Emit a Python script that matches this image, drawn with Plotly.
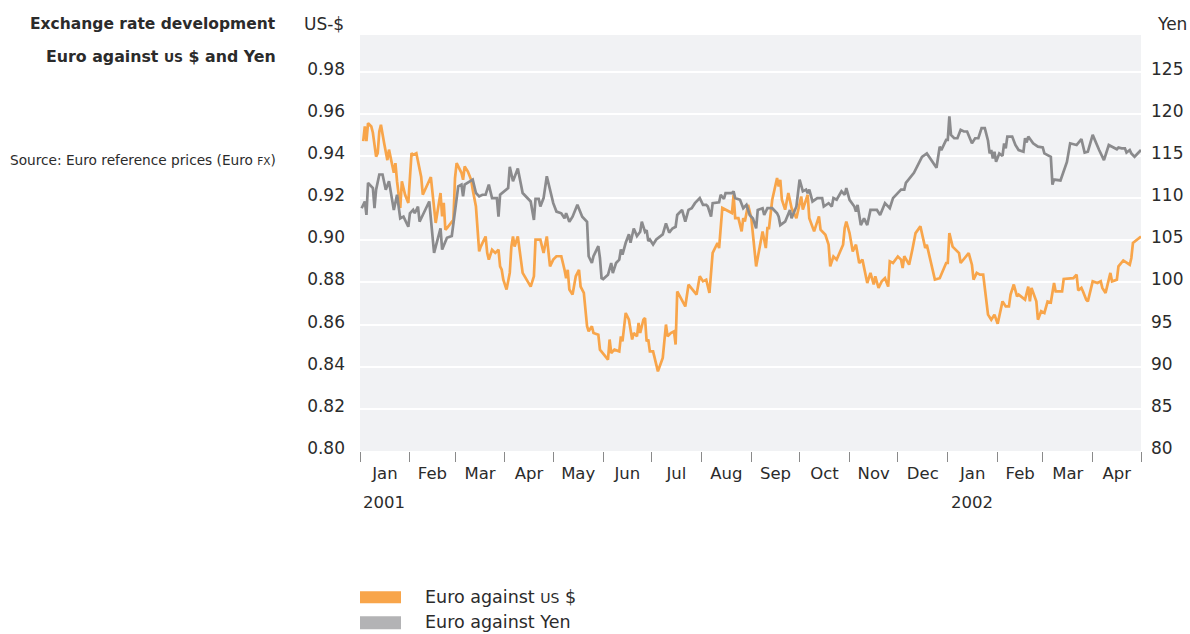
import plotly.graph_objects as go

# ---------------- data ----------------
usd_dates = [
    "2001-01-03","2001-01-04","2001-01-05","2001-01-06","2001-01-08","2001-01-09","2001-01-11","2001-01-12",
    "2001-01-13","2001-01-14","2001-01-16","2001-01-18","2001-01-19","2001-01-21","2001-01-22","2001-01-23",
    "2001-01-24","2001-01-26","2001-01-27","2001-01-29","2001-01-31","2001-02-02","2001-02-03","2001-02-05",
    "2001-02-07","2001-02-08","2001-02-09","2001-02-14","2001-02-17","2001-02-18","2001-02-20","2001-02-21",
    "2001-02-22","2001-02-23","2001-02-24","2001-02-28","2001-03-01","2001-03-02","2001-03-05","2001-03-06",
    "2001-03-07","2001-03-09","2001-03-11","2001-03-12","2001-03-14","2001-03-16","2001-03-17","2001-03-20",
    "2001-03-21","2001-03-22","2001-03-24","2001-03-26","2001-03-28","2001-03-29","2001-03-30","2001-03-31",
    "2001-04-02","2001-04-04","2001-04-05","2001-04-06","2001-04-07","2001-04-09","2001-04-12","2001-04-17",
    "2001-04-19","2001-04-20","2001-04-23","2001-04-25","2001-04-27","2001-04-29","2001-05-01","2001-05-03",
    "2001-05-06","2001-05-08","2001-05-09","2001-05-10","2001-05-11","2001-05-13","2001-05-15","2001-05-17",
    "2001-05-18","2001-05-20","2001-05-22","2001-05-23","2001-05-25","2001-05-26","2001-05-29","2001-05-30",
    "2001-06-04","2001-06-05","2001-06-06","2001-06-08","2001-06-11","2001-06-12","2001-06-13","2001-06-15",
    "2001-06-17","2001-06-19","2001-06-20","2001-06-22","2001-06-23","2001-06-24","2001-06-26","2001-06-27",
    "2001-06-28","2001-06-29","2001-06-30","2001-07-02","2001-07-05","2001-07-08","2001-07-10","2001-07-11",
    "2001-07-13","2001-07-15","2001-07-16","2001-07-17","2001-07-22","2001-07-24","2001-07-29","2001-07-31",
    "2001-08-02","2001-08-04","2001-08-06","2001-08-08","2001-08-11","2001-08-12","2001-08-14","2001-08-20",
    "2001-08-21","2001-08-22","2001-08-24","2001-08-26","2001-08-27","2001-08-28","2001-08-30","2001-09-01",
    "2001-09-04","2001-09-08","2001-09-10","2001-09-11","2001-09-12","2001-09-14","2001-09-17","2001-09-18",
    "2001-09-19","2001-09-20","2001-09-22","2001-09-24","2001-09-26","2001-09-29","2001-10-02","2001-10-03",
    "2001-10-06","2001-10-07","2001-10-10","2001-10-13","2001-10-14","2001-10-17","2001-10-19","2001-10-20",
    "2001-10-22","2001-10-24","2001-10-28","2001-10-29","2001-10-30","2001-11-01","2001-11-03","2001-11-05",
    "2001-11-07","2001-11-09","2001-11-12","2001-11-14","2001-11-16","2001-11-17","2001-11-19","2001-11-21",
    "2001-11-23","2001-11-25","2001-11-26","2001-11-28","2001-12-01","2001-12-03","2001-12-04","2001-12-05",
    "2001-12-08","2001-12-10","2001-12-12","2001-12-15","2001-12-18","2001-12-19","2001-12-24","2001-12-27",
    "2001-12-29","2001-12-31","2002-01-01","2002-01-02","2002-01-04","2002-01-08","2002-01-09","2002-01-14",
    "2002-01-16","2002-01-17","2002-01-19","2002-01-21","2002-01-23","2002-01-24","2002-01-26","2002-01-28",
    "2002-01-30","2002-02-01","2002-02-03","2002-02-04","2002-02-06","2002-02-08","2002-02-09","2002-02-11",
    "2002-02-13","2002-02-14","2002-02-18","2002-02-20","2002-02-21","2002-02-22","2002-02-25","2002-02-26",
    "2002-02-28","2002-03-02","2002-03-04","2002-03-06","2002-03-08","2002-03-09","2002-03-13","2002-03-14",
    "2002-03-20","2002-03-22","2002-03-23","2002-03-25","2002-03-26","2002-03-28","2002-03-29","2002-04-01",
    "2002-04-04","2002-04-06","2002-04-07","2002-04-09","2002-04-12","2002-04-13","2002-04-16","2002-04-17",
    "2002-04-20","2002-04-24","2002-04-25","2002-04-26","2002-05-01",
]
usd_values = [
    0.947,0.954,0.947,0.9556,0.954,0.951,0.9397,0.9413,
    0.9516,0.9548,0.946,0.938,0.943,0.9358,0.932,0.9366,
    0.928,0.9153,0.928,0.9216,0.9177,0.9413,0.9405,0.9413,
    0.9334,0.930,0.9216,0.930,0.9082,0.9129,0.9224,0.9113,
    0.9177,0.905,0.9058,0.9097,0.9295,0.9366,0.932,0.9287,
    0.935,0.9326,0.9287,0.924,0.916,0.8947,0.897,0.9018,
    0.894,0.8908,0.8955,0.894,0.8955,0.8876,0.886,0.8813,
    0.8766,0.8845,0.897,0.9018,0.897,0.9018,0.8845,0.878,
    0.8829,0.9003,0.9003,0.894,0.9018,0.8876,0.8908,0.8924,
    0.8924,0.886,0.882,0.886,0.8766,0.8742,0.8829,0.886,
    0.878,0.875,0.8592,0.8568,0.8592,0.856,0.8552,0.8481,
    0.8434,0.8529,0.8465,0.8481,0.8473,0.8544,0.852,0.8655,
    0.8623,0.8529,0.856,0.8544,0.8608,0.856,0.8623,0.8631,
    0.852,0.8529,0.8473,0.8473,0.8378,0.8442,0.860,0.8544,
    0.856,0.8568,0.8505,0.8757,0.8686,0.8789,0.8742,0.8829,
    0.8805,0.8813,0.875,0.894,0.8987,0.8963,0.9153,0.9129,
    0.9216,0.9105,0.9105,0.9042,0.9105,0.9089,0.9168,0.9105,
    0.8876,0.9042,0.8963,0.9058,0.9058,0.9192,0.9295,0.9255,
    0.9287,0.9192,0.9145,0.9224,0.9153,0.9105,0.9208,0.9145,
    0.9216,0.9105,0.9042,0.9113,0.905,0.9026,0.8979,0.8876,
    0.8923,0.8908,0.8979,0.9058,0.9089,0.9034,0.8947,0.8979,
    0.8892,0.8908,0.8797,0.8845,0.879,0.8829,0.8774,0.8805,
    0.882,0.878,0.890,0.8892,0.8923,0.8908,0.8868,0.8924,
    0.8884,0.8955,0.9034,0.9066,0.8963,0.8979,0.8813,0.882,
    0.8852,0.8892,0.8892,0.9034,0.897,0.8939,0.8892,0.8939,
    0.8884,0.8813,0.8845,0.8837,0.8837,0.878,0.8647,0.8623,
    0.8647,0.8604,0.8686,0.871,0.8686,0.8686,0.8742,0.879,
    0.8734,0.8742,0.8718,0.878,0.871,0.8774,0.871,0.8623,
    0.8663,0.8655,0.871,0.8705,0.8797,0.8757,0.8757,0.8816,
    0.882,0.8837,0.8762,0.8774,0.8757,0.8718,0.871,0.8805,
    0.8797,0.8805,0.8774,0.875,0.8845,0.8805,0.8813,0.8876,
    0.8904,0.8884,0.8916,0.8987,0.9018,
]

yen_dates = [
    "2001-01-02","2001-01-04","2001-01-05","2001-01-06","2001-01-09","2001-01-10","2001-01-11","2001-01-13",
    "2001-01-15","2001-01-17","2001-01-19","2001-01-20","2001-01-22","2001-01-24","2001-01-26","2001-01-28",
    "2001-01-31","2001-02-01","2001-02-03","2001-02-04","2001-02-06","2001-02-07","2001-02-09","2001-02-11",
    "2001-02-13","2001-02-16","2001-02-19","2001-02-20","2001-02-21","2001-02-24","2001-02-27","2001-03-02",
    "2001-03-03","2001-03-05","2001-03-06","2001-03-07","2001-03-10","2001-03-12","2001-03-14","2001-03-16",
    "2001-03-18","2001-03-20","2001-03-22","2001-03-24","2001-03-27","2001-03-28","2001-03-29","2001-04-03",
    "2001-04-04","2001-04-06","2001-04-09","2001-04-12","2001-04-17","2001-04-19","2001-04-20","2001-04-22",
    "2001-04-23","2001-04-25","2001-04-27","2001-04-29","2001-05-01","2001-05-03","2001-05-06","2001-05-08",
    "2001-05-09","2001-05-11","2001-05-13","2001-05-16","2001-05-19","2001-05-22","2001-05-23","2001-05-25",
    "2001-05-26","2001-05-29","2001-05-30","2001-05-31","2001-06-01","2001-06-04","2001-06-06","2001-06-07",
    "2001-06-09","2001-06-11","2001-06-12","2001-06-13","2001-06-15","2001-06-17","2001-06-18","2001-06-20",
    "2001-06-22","2001-06-24","2001-06-25","2001-06-27","2001-06-28","2001-06-29","2001-06-30","2001-07-02",
    "2001-07-04","2001-07-08","2001-07-10","2001-07-12","2001-07-14","2001-07-16","2001-07-17","2001-07-18",
    "2001-07-20","2001-07-22","2001-07-24","2001-07-26","2001-07-28","2001-07-31","2001-08-02","2001-08-04",
    "2001-08-05","2001-08-07","2001-08-08","2001-08-12","2001-08-13","2001-08-15","2001-08-16","2001-08-20",
    "2001-08-21","2001-08-22","2001-08-25","2001-08-27","2001-08-29","2001-08-31","2001-09-02","2001-09-04",
    "2001-09-05","2001-09-08","2001-09-09","2001-09-11","2001-09-12","2001-09-14","2001-09-17","2001-09-18",
    "2001-09-19","2001-09-22","2001-09-25","2001-09-26","2001-09-29","2001-10-01","2001-10-03","2001-10-05",
    "2001-10-06","2001-10-07","2001-10-09","2001-10-12","2001-10-15","2001-10-16","2001-10-19","2001-10-20",
    "2001-10-21","2001-10-22","2001-10-24","2001-10-27","2001-10-29","2001-10-30","2001-11-01","2001-11-04",
    "2001-11-05","2001-11-06","2001-11-08","2001-11-10","2001-11-12","2001-11-14","2001-11-18","2001-11-20",
    "2001-11-23","2001-11-26","2001-11-28","2001-12-03","2001-12-05","2001-12-06","2001-12-11","2001-12-16",
    "2001-12-19","2001-12-25","2001-12-27","2001-12-28","2001-12-31","2002-01-01","2002-01-02","2002-01-03",
    "2002-01-05","2002-01-07","2002-01-09","2002-01-11","2002-01-13","2002-01-16","2002-01-18","2002-01-20",
    "2002-01-22","2002-01-24","2002-01-26","2002-01-27","2002-01-28","2002-01-29","2002-01-30","2002-01-31",
    "2002-02-02","2002-02-04","2002-02-05","2002-02-06","2002-02-07","2002-02-10","2002-02-12","2002-02-14",
    "2002-02-17","2002-02-18","2002-02-19","2002-02-20","2002-02-23","2002-02-26","2002-03-01","2002-03-02",
    "2002-03-05","2002-03-06","2002-03-07","2002-03-08","2002-03-12","2002-03-16","2002-03-18","2002-03-22",
    "2002-03-25","2002-03-27","2002-03-29","2002-04-01","2002-04-05","2002-04-08","2002-04-11","2002-04-16",
    "2002-04-17","2002-04-19","2002-04-21","2002-04-22","2002-04-24","2002-04-25","2002-04-27","2002-05-01",
]
yen_values = [
    108.8,109.6,108.0,111.8,111.2,108.8,111.0,112.8,
    112.8,111.0,112.0,111.0,108.6,110.4,107.6,107.8,
    106.6,108.2,108.6,108.2,109.0,107.2,108.0,109.0,
    109.6,103.5,105.9,106.4,103.9,105.3,105.5,109.8,
    111.4,111.6,110.2,111.6,112.0,112.2,110.6,110.2,
    110.4,110.4,111.6,110.0,110.0,107.8,110.4,111.2,
    113.7,112.0,113.5,110.6,109.6,107.4,109.9,109.9,
    109.0,110.0,112.6,111.0,109.4,108.4,108.2,107.6,
    108.2,107.2,107.8,109.2,107.8,107.2,103.1,102.3,
    103.1,104.3,102.9,100.5,100.4,100.9,102.3,101.1,
    102.3,102.7,103.9,103.3,104.7,105.7,104.7,106.4,
    105.5,106.0,107.2,106.0,106.2,104.9,105.1,104.5,
    105.1,105.7,107.0,105.9,106.4,106.6,108.0,108.2,
    108.6,107.2,108.6,108.8,109.4,110.0,109.2,109.2,
    109.0,107.8,109.4,109.5,110.4,109.9,110.6,110.6,
    110.8,110.0,109.8,108.8,109.2,108.0,107.6,106.4,
    108.6,108.8,108.0,108.8,108.8,108.8,108.2,107.8,
    106.8,107.2,108.6,107.6,109.0,112.2,110.8,111.0,
    110.6,111.0,109.6,110.0,110.0,109.0,109.4,109.2,
    109.0,110.0,109.8,110.8,110.4,111.2,109.8,109.0,
    108.4,109.2,106.8,107.6,106.8,108.6,108.6,108.0,
    109.4,108.8,110.0,111.0,111.0,111.8,113.0,114.9,
    115.3,113.6,116.1,115.7,116.9,116.9,119.7,117.5,
    117.1,117.1,118.1,117.9,117.9,116.5,117.1,117.1,
    118.3,118.3,116.8,115.3,115.7,114.7,115.5,114.3,
    115.3,115.0,116.5,115.9,117.3,117.3,116.3,115.7,
    115.5,117.1,116.6,117.3,116.5,116.1,116.0,115.3,
    115.0,114.9,111.6,112.2,112.1,114.3,116.5,116.3,
    117.0,115.4,115.5,117.5,115.7,114.5,116.3,115.8,
    116.0,115.9,115.9,115.4,115.7,115.3,114.9,115.7,
]

usd_ticks = [0.80, 0.82, 0.84, 0.86, 0.88, 0.90, 0.92, 0.94, 0.96, 0.98]
yen_ticks = [80, 85, 90, 95, 100, 105, 110, 115, 120, 125]
year_labels = [("2001-01-16", "2001"), ("2002-01-16", "2002")]

# ---------------- style ----------------
FONT = "DejaVu Sans"
TXT = "#2b2b2b"
ORANGE = "#f8a54a"
GREY = "#8b8b8d"
GREY_LEG = "#b3b3b5"

# page body margin is removed (post_script below), so the figure fills the window
OFF = 0
W, H = 1190, 634
PLOT_L, PLOT_R, PLOT_T, PLOT_B = 360, 1141, 35, 451.5   # page pixels of the plot area

fig = go.Figure()
fig.add_trace(go.Scatter(x=usd_dates, y=usd_values, mode="lines",
                         line=dict(color=ORANGE, width=2.7), showlegend=False, yaxis="y"))
fig.add_trace(go.Scatter(x=yen_dates, y=yen_values, mode="lines",
                         line=dict(color=GREY, width=2.7), showlegend=False, yaxis="y2"))

px_per_step = 42.2
top_usd = 0.80 + (PLOT_B - PLOT_T) / px_per_step * 0.02
top_yen = 80 + (PLOT_B - PLOT_T) / px_per_step * 5

fig.update_layout(
    width=W, height=H,
    margin=dict(l=PLOT_L - OFF, r=W - (PLOT_R - OFF), t=PLOT_T - OFF, b=H - (PLOT_B - OFF)),
    paper_bgcolor="white",
    plot_bgcolor="#f1f2f4",
    font=dict(family=FONT, color=TXT, size=17),
    hovermode=False,
    xaxis=dict(
        type="date", automargin=False,
        range=["2001-01-01", "2002-05-01"],
        dtick="M1", tick0="2001-01-01",
        tickformat="%b", ticklabelmode="period",
        ticks="outside", ticklen=10, tickwidth=1, tickcolor="#8a8a8a",
        showgrid=False, zeroline=False, showline=False,
        ticklabelstandoff=-3,
        tickfont=dict(size=16.5, color=TXT),
    ),
    yaxis=dict(
        automargin=False,
        range=[0.80, top_usd],
        tickvals=usd_ticks, ticktext=[f"{v:.2f}" for v in usd_ticks],
        showgrid=True, gridcolor="white", gridwidth=2,
        zeroline=False, showline=False, ticks="",
        ticklabelstandoff=14, ticklabelshift=-3,
        tickfont=dict(size=17, color=TXT),
    ),
    yaxis2=dict(
        automargin=False,
        range=[80, top_yen], overlaying="y", side="right",
        tickvals=yen_ticks, ticktext=[str(v) for v in yen_ticks],
        showgrid=False, zeroline=False, showline=False, ticks="",
        ticklabelstandoff=9, ticklabelshift=-3,
        tickfont=dict(size=17, color=TXT),
    ),
)

def py(pix):
    return (PLOT_B - pix) / (PLOT_B - PLOT_T)

def px(pix):
    return (pix - PLOT_L) / (PLOT_R - PLOT_L)

ann = []
ann.append(dict(xref="paper", yref="paper", x=px(278), y=py(24), xanchor="right", yanchor="middle",
                text="<b>Exchange rate development</b>", showarrow=False, font=dict(size=15.5, color=TXT)))
ann.append(dict(xref="paper", yref="paper", x=px(278), y=py(57), xanchor="right", yanchor="middle",
                text="<b>Euro against <span style='font-size:12.5px'>US</span> $ and Yen</b>",
                showarrow=False, font=dict(size=15.8, color=TXT)))
ann.append(dict(xref="paper", yref="paper", x=px(278), y=py(160), xanchor="right", yanchor="middle",
                text="Source: Euro reference prices (Euro <span style='font-size:10.5px'>FX</span>)",
                showarrow=False, font=dict(size=13.7, color=TXT)))
ann.append(dict(xref="paper", yref="paper", x=px(346), y=py(24), xanchor="right", yanchor="middle",
                text="US-$", showarrow=False, font=dict(size=17, color=TXT)))
ann.append(dict(xref="paper", yref="paper", x=px(1155), y=py(24), xanchor="left", yanchor="middle",
                text="Yen", showarrow=False, font=dict(size=17, color=TXT)))
for d, t in year_labels:
    ann.append(dict(xref="x", yref="paper", x=d, y=py(503), xanchor="center", yanchor="middle",
                    text=t, showarrow=False, font=dict(size=16.5, color=TXT)))
ann.append(dict(xref="paper", yref="paper", x=px(423), y=py(598), xanchor="left", yanchor="middle",
                text="Euro against <span style='font-size:14px'>US</span> $", showarrow=False,
                font=dict(size=17.5, color=TXT)))
ann.append(dict(xref="paper", yref="paper", x=px(423), y=py(623), xanchor="left", yanchor="middle",
                text="Euro against Yen", showarrow=False, font=dict(size=17.5, color=TXT)))

shapes = [
    dict(type="rect", xref="paper", yref="paper", x0=px(360), x1=px(401), y0=py(604), y1=py(592),
         fillcolor=ORANGE, line=dict(width=0)),
    dict(type="rect", xref="paper", yref="paper", x0=px(360), x1=px(401), y0=py(630), y1=py(617),
         fillcolor=GREY_LEG, line=dict(width=0)),
]
fig.update_layout(annotations=ann, shapes=shapes)

fig.write_html(
    "out.html",
    config={"displayModeBar": False, "staticPlot": True},
    post_script="document.documentElement.style.overflow='hidden';"
                "document.body.style.margin='0';document.body.style.overflow='hidden';",
)
